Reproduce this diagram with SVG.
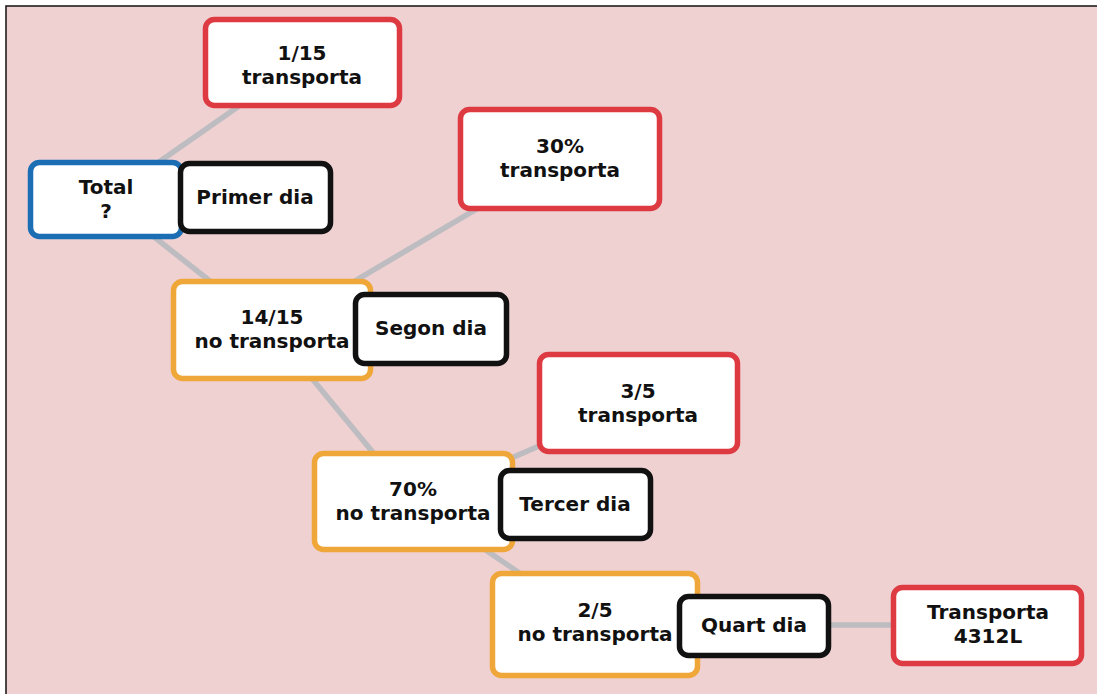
<svg xmlns="http://www.w3.org/2000/svg" width="1097" height="694" viewBox="0 0 1097 694">
<style>
.box{fill:#fff;stroke-width:5.5}
.red{stroke:#DD3A42}
.blue{stroke:#1B6DB4}
.orange{stroke:#F0A73A}
.black{stroke:#111}
.t{font-family:"DejaVu Sans","Liberation Sans",sans-serif;font-weight:700;font-size:20px;fill:#111;text-anchor:middle}
.conn line{stroke:#BDBCC0;stroke-width:5.5}
</style>
<rect x="0" y="0" width="1097" height="694" fill="#fff"/>
<rect x="6" y="6" width="1100" height="700" fill="#EFD1D2" stroke="#111" stroke-width="1.5"/>
<g id="connectors" class="conn">
<line x1="106" y1="199" x2="302" y2="62"/>
<line x1="106" y1="199" x2="272" y2="330"/>
<line x1="272" y1="330" x2="556" y2="162"/>
<line x1="272" y1="330" x2="413" y2="501"/>
<line x1="413" y1="501" x2="638" y2="403"/>
<line x1="413" y1="501" x2="595" y2="624"/>
<line x1="595" y1="625" x2="988" y2="625"/>
</g>
<g id="n_1_15">
<rect class="box red" x="205.5" y="19.5" width="194" height="86" rx="9"/>
<text class="t" x="302" y="60">1/15</text>
<text class="t" x="302" y="84">transporta</text>
</g>
<g id="n_total">
<rect class="box blue" x="30.5" y="162.5" width="151" height="74" rx="9"/>
<text class="t" x="106" y="194">Total</text>
<text class="t" x="106" y="218">?</text>
</g>
<g id="n_primer">
<rect class="box black" x="180.5" y="163.5" width="150" height="68" rx="9"/>
<text class="t" x="255" y="204">Primer dia</text>
</g>
<g id="n_30">
<rect class="box red" x="460.5" y="109.5" width="199" height="99" rx="9"/>
<text class="t" x="560" y="153">30%</text>
<text class="t" x="560" y="177">transporta</text>
</g>
<g id="n_14_15">
<rect class="box orange" x="173.5" y="281.5" width="197" height="97" rx="9"/>
<text class="t" x="272" y="324">14/15</text>
<text class="t" x="272" y="348">no transporta</text>
</g>
<g id="n_segon">
<rect class="box black" x="355.5" y="294.5" width="151" height="69" rx="9"/>
<text class="t" x="431" y="335">Segon dia</text>
</g>
<g id="n_3_5">
<rect class="box red" x="539.5" y="354.5" width="198" height="97" rx="9"/>
<text class="t" x="638" y="398">3/5</text>
<text class="t" x="638" y="422">transporta</text>
</g>
<g id="n_70">
<rect class="box orange" x="314.5" y="453.5" width="198" height="96" rx="9"/>
<text class="t" x="413" y="496">70%</text>
<text class="t" x="413" y="520">no transporta</text>
</g>
<g id="n_tercer">
<rect class="box black" x="500.5" y="470.5" width="150" height="68" rx="9"/>
<text class="t" x="575" y="511">Tercer dia</text>
</g>
<g id="n_2_5">
<rect class="box orange" x="492.5" y="573.5" width="205" height="102" rx="9"/>
<text class="t" x="595" y="617">2/5</text>
<text class="t" x="595" y="641">no transporta</text>
</g>
<g id="n_quart">
<rect class="box black" x="679.5" y="596.5" width="149" height="59" rx="9"/>
<text class="t" x="754" y="632">Quart dia</text>
</g>
<g id="n_transporta">
<rect class="box red" x="893.5" y="587.5" width="188" height="76" rx="9"/>
<text class="t" x="988" y="619">Transporta</text>
<text class="t" x="988" y="643">4312L</text>
</g>
</svg>
